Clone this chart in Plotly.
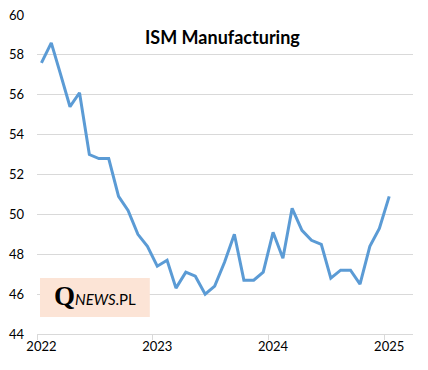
import plotly.graph_objects as go

months = [f"{y}-{m:02d}-15" for y in (2022, 2023, 2024) for m in range(1, 13)] + ["2025-01-15"]
ism = [57.6, 58.6, 57.1, 55.4, 56.1, 53.0, 52.8, 52.8, 50.9, 50.2, 49.0, 48.4,
       47.4, 47.7, 46.3, 47.1, 46.9, 46.0, 46.4, 47.6, 49.0, 46.7, 46.7, 47.1,
       49.1, 47.8, 50.3, 49.2, 48.7, 48.5, 46.8, 47.2, 47.2, 46.5, 48.4, 49.3,
       50.9]
year_ticks = ["2022-01-01", "2023-01-01", "2024-01-01", "2025-01-01"]
year_label_pos = ["2022-01-15", "2023-01-15", "2024-01-15", "2025-01-15"]
year_labels = ["2022", "2023", "2024", "2025"]
y_ticks = [44, 46, 48, 50, 52, 54, 56, 58, 60]

fig = go.Figure()
fig.add_trace(go.Scatter(x=months, y=ism, mode="lines",
                         line=dict(color="#5B9BD5", width=3), hoverinfo="x+y"))

grid = "#d9d9d9"
fig.update_layout(
    width=420, height=362,
    margin=dict(l=29, r=15, t=7, b=36),
    paper_bgcolor="white", plot_bgcolor="white",
    showlegend=False,
    font=dict(family="Lato, Carlito, Calibri, sans-serif", size=13, color="#000000"),
    xaxis=dict(type="date", range=["2022-01-01", "2025-03-31"],
               tickmode="array", tickvals=year_label_pos, ticktext=year_labels,
               showgrid=False, showline=True, linecolor=grid, linewidth=1,
               ticks="", zeroline=False, automargin=False,
               ticklabeloverflow="allow",
               minor=dict(tickmode="array", tickvals=year_ticks, ticks="outside",
                          ticklen=5, tickcolor=grid, tickwidth=1, showgrid=False)),
    yaxis=dict(range=[44, 60], tickvals=y_ticks, showgrid=True, gridcolor=grid,
               gridwidth=1, zeroline=False, ticks="", ticklabelstandoff=12,
               automargin=False, ticklabeloverflow="allow"),
    annotations=[
        dict(text="<b>ISM Manufacturing</b>", xref="paper", yref="paper",
             x=0.494, y=0.931, xanchor="center", yanchor="middle", showarrow=False,
             font=dict(size=18, family="Lato, sans-serif", color="#000000")),
        dict(text="<span style='font-family:Liberation Serif;font-size:27px'><b>Q</b></span><i>NEWS</i>.PL",
             xref="paper", yref="y", x=0.155, y=45.9, xanchor="center", yanchor="middle",
             showarrow=False, font=dict(size=15, family="Lato, sans-serif", color="#000000")),
    ],
    shapes=[
        dict(type="rect", xref="paper", yref="y", x0=0.008, x1=0.30, y0=44.85, y1=46.81,
             fillcolor="#FCE4D6", line=dict(width=0), layer="above"),
    ],
)
fig.write_html("out.html")
